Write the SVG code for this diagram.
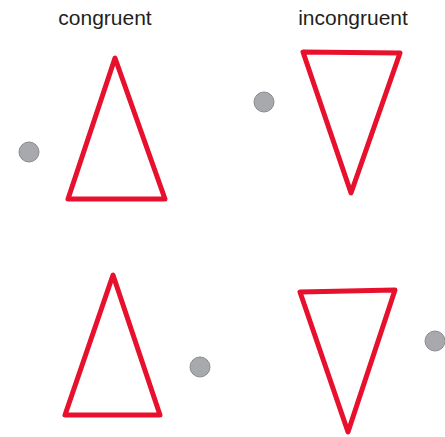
<svg xmlns="http://www.w3.org/2000/svg" width="445" height="437" viewBox="0 0 445 437">
<style>
.lbl{font-family:"Liberation Sans",Arial,sans-serif;font-size:21px;fill:#231f20;text-anchor:middle}
.tri{fill:#fff;stroke:#e8112d;stroke-width:5;stroke-linejoin:round}
.dot{fill:#a7a9ac;stroke:#8a8c8f;stroke-width:1}
</style>
<rect width="445" height="437" fill="#fff"/>
<g id="labels">
<text class="lbl" x="105" y="25">congruent</text>
<text class="lbl" x="353" y="25">incongruent</text>
</g>
<g id="tl">
<polygon class="tri" points="115,58 68,199 165,199"/>
<circle class="dot" cx="29" cy="152" r="10"/>
</g>
<g id="tr">
<polygon class="tri" points="303,52 400,53 351,193"/>
<circle class="dot" cx="264" cy="102" r="10"/>
</g>
<g id="bl">
<polygon class="tri" points="113,275 65,415 160,415"/>
<circle class="dot" cx="200" cy="367" r="10"/>
</g>
<g id="br">
<polygon class="tri" points="300,292 395,290 348,432"/>
<circle class="dot" cx="435" cy="341" r="10"/>
</g>
<g id="connectors"/>
</svg>
